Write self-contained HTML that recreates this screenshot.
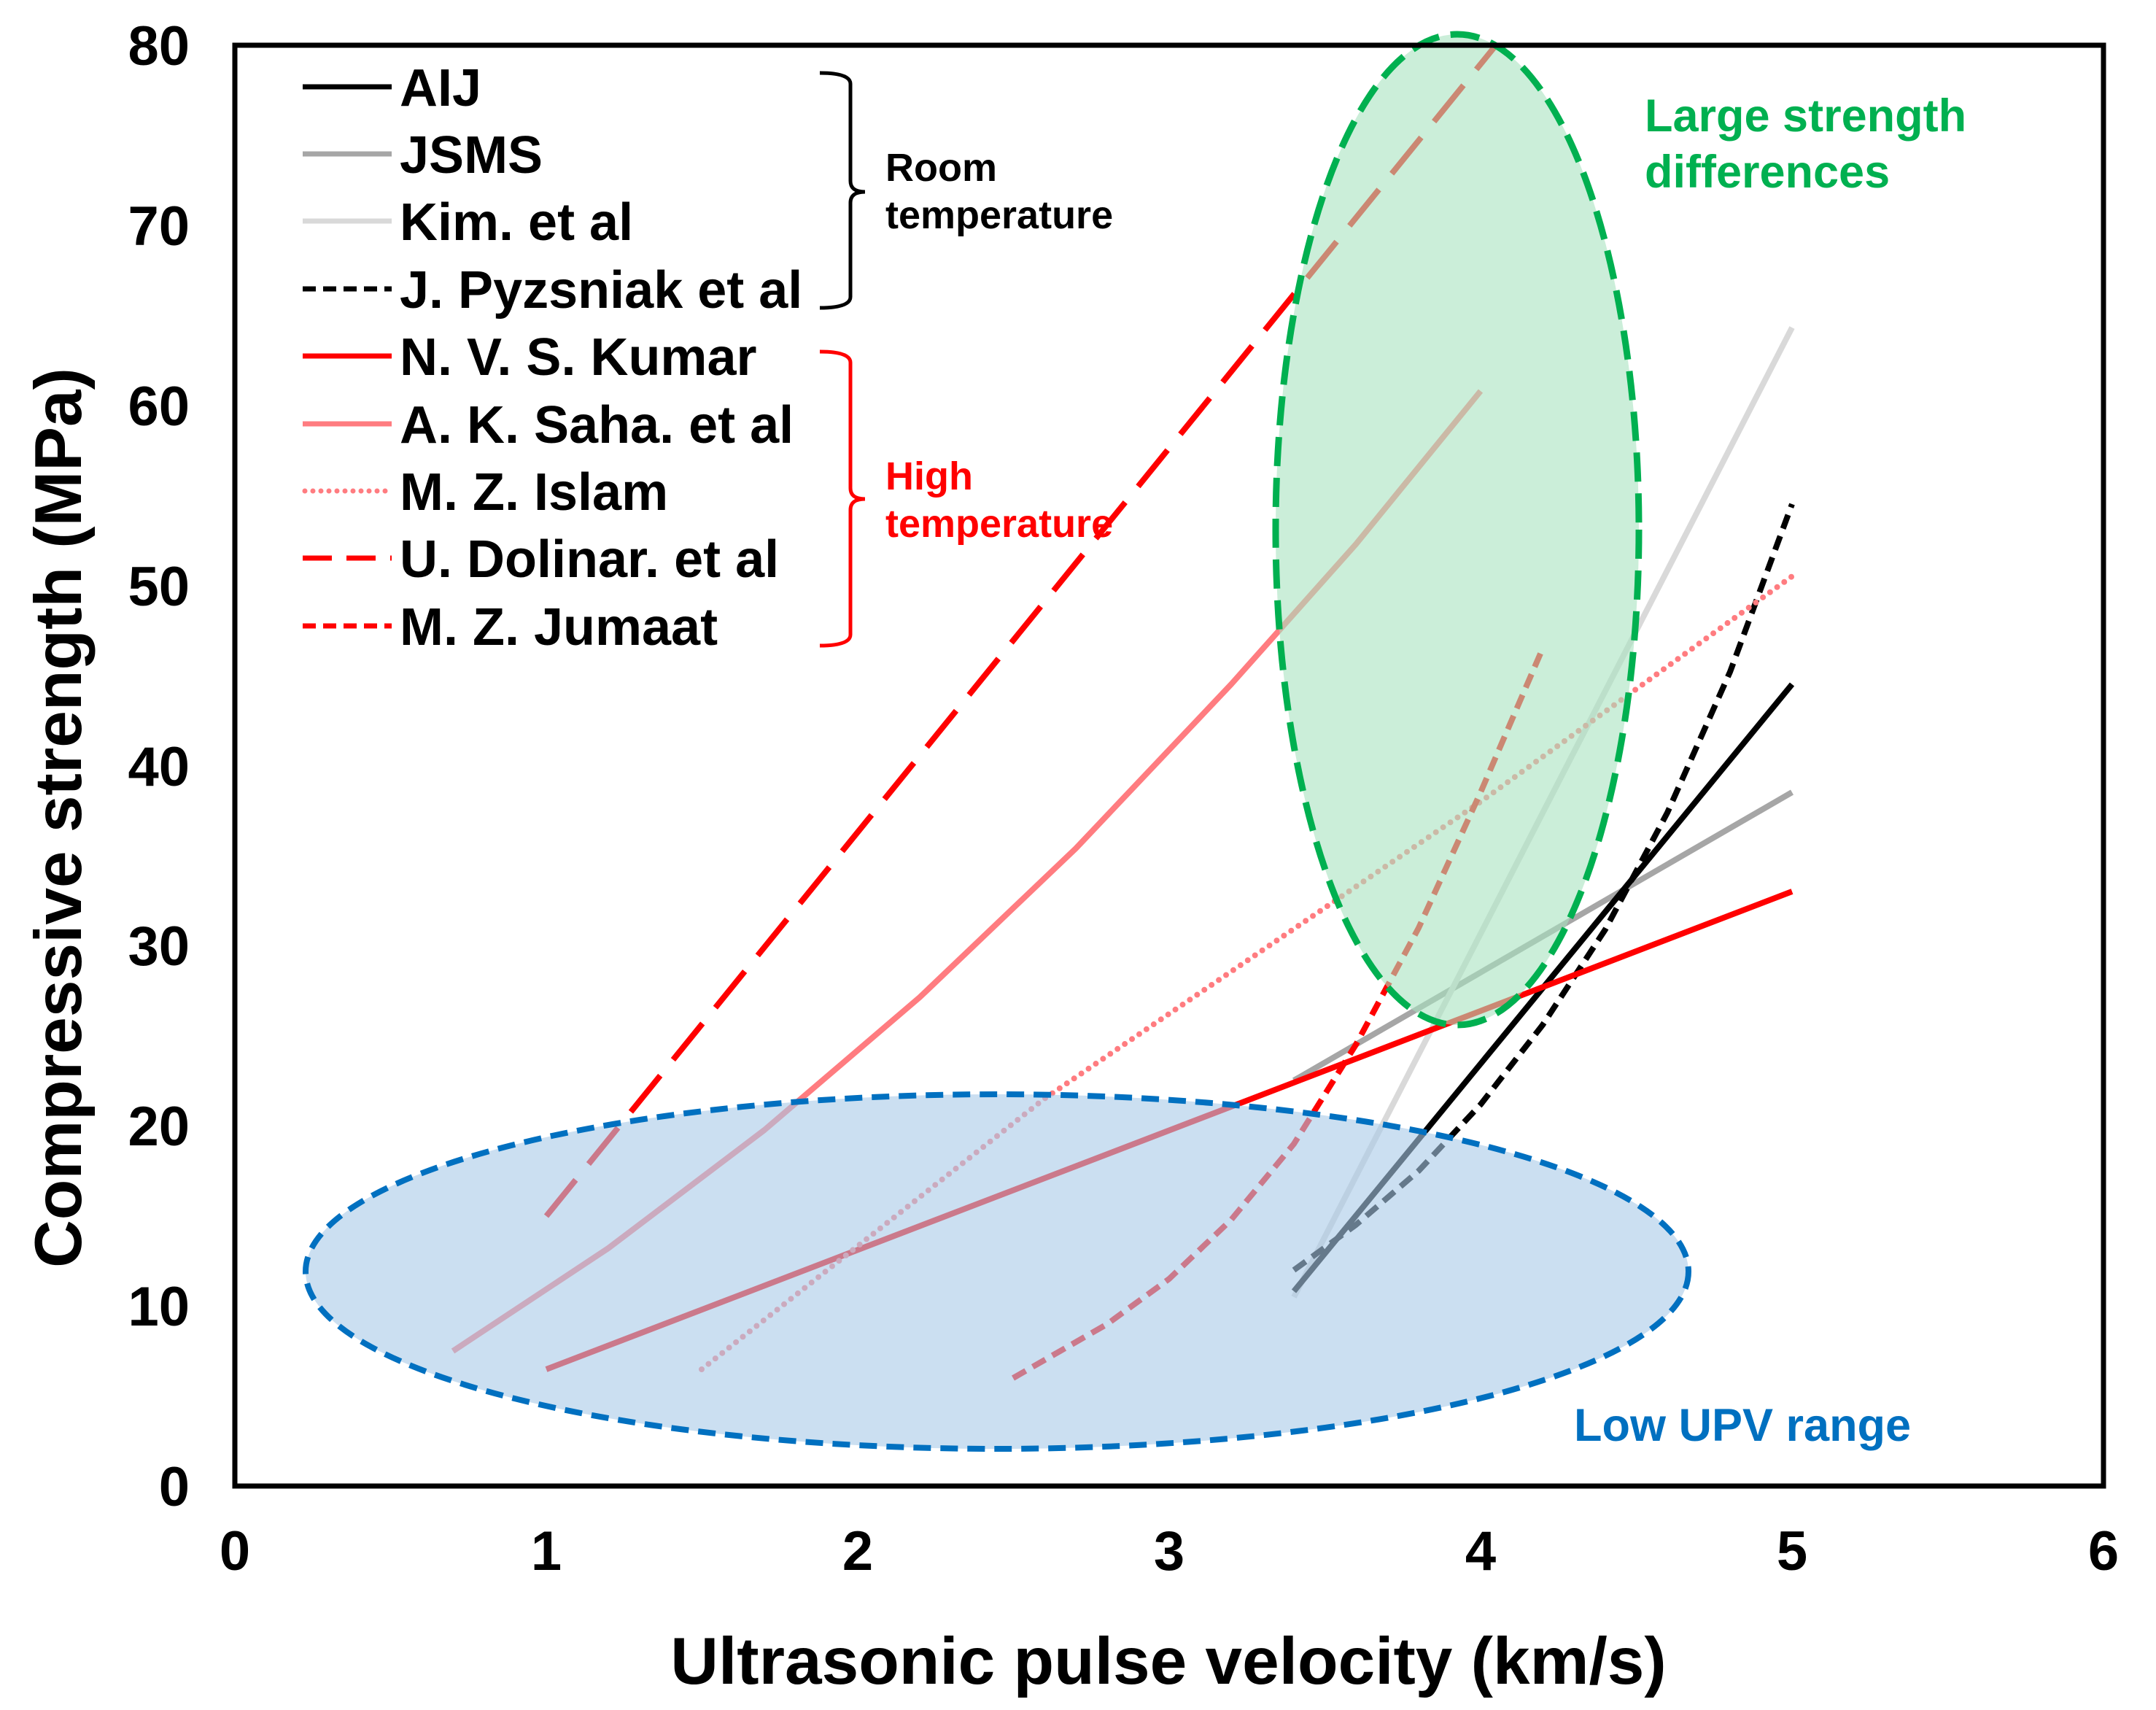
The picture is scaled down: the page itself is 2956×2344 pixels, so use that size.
<!DOCTYPE html>
<html><head><meta charset="utf-8"><style>
html,body{margin:0;padding:0;background:#fff;}
svg{display:block;}
text{font-family:"Liberation Sans",Arial,sans-serif;font-weight:bold;}
</style></head><body>
<svg width="2956" height="2344" viewBox="0 0 2956 2344" xmlns="http://www.w3.org/2000/svg">
<rect width="2956" height="2344" fill="#fff"/>
<g fill="none" stroke-width="8" stroke-linejoin="round">
<line x1="1774" y1="1481" x2="2457" y2="1086" stroke="#a6a6a6"/>
<line x1="1774" y1="1778" x2="2457" y2="449" stroke="#d9d9d9"/>
<line x1="1774" y1="1770" x2="2457" y2="938" stroke="#000"/>
<polyline points="1774,1741 1859,1679 1945,1605 2030,1514 2115,1405 2201,1274 2286,1114 2372,921 2457,691" stroke="#000" stroke-dasharray="20 11"/>
<line x1="749" y1="1877" x2="2457" y2="1222" stroke="#ff0000"/>
<polyline points="621,1852 834,1711 1048,1549 1261,1367 1475,1163 1688,938 1859,746 2030,536" stroke="#ff7c80"/>
<polyline points="962,1877 1432,1506 2030,1099 2457,790" stroke="#ff7c80" stroke-dasharray="0 12" stroke-linecap="round"/>
<line x1="749" y1="1667" x2="2051" y2="62" stroke="#ff0000" stroke-dasharray="64 28"/>
<polyline points="1389,1889 1518,1815 1603,1753 1688,1672 1774,1568 1859,1432 1945,1272 2030,1086 2115,889" stroke="#ff0000" stroke-dasharray="20 11"/>
</g>
<ellipse cx="1998" cy="726" rx="249" ry="679" fill="#a9e2bf" fill-opacity="0.6" stroke="#00b050" stroke-width="9" stroke-dasharray="40 16"/>
<ellipse cx="1367" cy="1743" rx="948" ry="243" fill="#a8c9e8" fill-opacity="0.6" stroke="#0070c0" stroke-width="8" stroke-dasharray="24 13"/>
<rect x="322" y="62" width="2562" height="1975" fill="none" stroke="#000" stroke-width="7"/>
<g font-size="76" text-anchor="end">
<text x="260" y="2064">0</text>
<text x="260" y="1817">10</text>
<text x="260" y="1570">20</text>
<text x="260" y="1323">30</text>
<text x="260" y="1077">40</text>
<text x="260" y="830">50</text>
<text x="260" y="583">60</text>
<text x="260" y="336">70</text>
<text x="260" y="89">80</text>
</g>
<g font-size="76" text-anchor="middle">
<text x="322" y="2152">0</text>
<text x="749" y="2152">1</text>
<text x="1176" y="2152">2</text>
<text x="1603" y="2152">3</text>
<text x="2030" y="2152">4</text>
<text x="2457" y="2152">5</text>
<text x="2884" y="2152">6</text>
</g>
<text x="1602" y="2308" font-size="91" text-anchor="middle">Ultrasonic pulse velocity (km/s)</text>
<text transform="translate(111,1121) rotate(-90)" font-size="91" text-anchor="middle">Compressive strength (MPa)</text>
<g stroke-width="7" fill="none">
<line x1="415" y1="119" x2="537" y2="119" stroke="#000"/>
<line x1="415" y1="211" x2="537" y2="211" stroke="#a6a6a6"/>
<line x1="415" y1="303" x2="537" y2="303" stroke="#d9d9d9"/>
<line x1="415" y1="396" x2="537" y2="396" stroke="#000" stroke-dasharray="18 10"/>
<line x1="415" y1="488" x2="537" y2="488" stroke="#ff0000"/>
<line x1="415" y1="581" x2="537" y2="581" stroke="#ff7c80"/>
<line x1="418" y1="673" x2="537" y2="673" stroke="#ff7c80" stroke-dasharray="0 11" stroke-linecap="round"/>
<line x1="415" y1="765" x2="537" y2="765" stroke="#ff0000" stroke-dasharray="40 20"/>
<line x1="415" y1="858" x2="537" y2="858" stroke="#ff0000" stroke-dasharray="18 10"/>
</g>
<g font-size="72">
<text x="548" y="145">AIJ</text>
<text x="548" y="237">JSMS</text>
<text x="548" y="329">Kim. et al</text>
<text x="548" y="422">J. Pyzsniak et al</text>
<text x="548" y="514">N. V. S. Kumar</text>
<text x="548" y="607">A. K. Saha. et al</text>
<text x="548" y="699">M. Z. Islam</text>
<text x="548" y="791">U. Dolinar. et al</text>
<text x="548" y="884">M. Z. Jumaat</text>
</g>
<path d="M1124,100 Q1166,100 1166,115 L1166,248 Q1166,263 1186,263 Q1166,263 1166,278 L1166,407 Q1166,422 1124,422" fill="none" stroke="#000" stroke-width="5"/>
<path d="M1124,482 Q1166,482 1166,497 L1166,669 Q1166,684 1186,684 Q1166,684 1166,699 L1166,870 Q1166,885 1124,885" fill="none" stroke="#ff0000" stroke-width="5"/>
<g font-size="54">
<text x="1214" y="248">Room</text>
<text x="1214" y="313">temperature</text>
<text x="1214" y="671" fill="#ff0000">High</text>
<text x="1214" y="736" fill="#ff0000">temperature</text>
</g>
<g font-size="63">
<text x="2255" y="180" fill="#00b050">Large strength</text>
<text x="2255" y="257" fill="#00b050">differences</text>
<text x="2158" y="1975" fill="#0070c0">Low UPV range</text>
</g>
</svg>
</body></html>
